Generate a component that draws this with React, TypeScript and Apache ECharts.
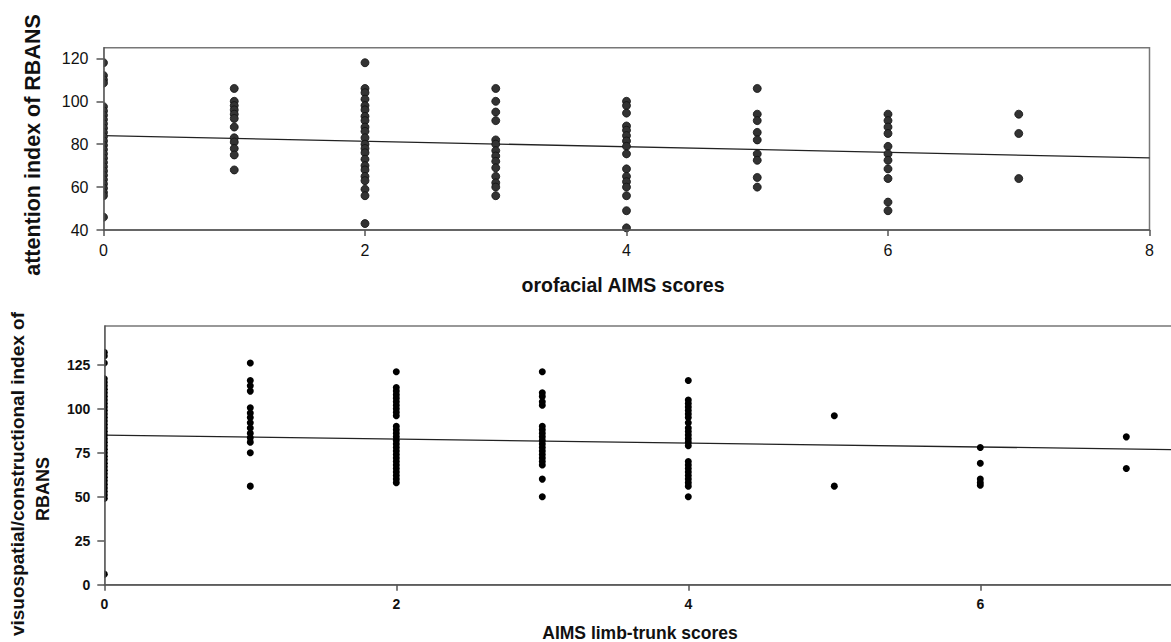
import React, { useEffect, useRef } from "react";
import * as echarts from "echarts";

// ---- Top panel: attention index of RBANS vs orofacial AIMS scores ----
const orofacialTicks = [0, 2, 4, 6, 8];
const attentionTicks = [40, 60, 80, 100, 120];
const attentionAt0 = [118, 112, 110, 108.5, 97.5, 95.5, 93.5, 91.5, 89.5, 87.5, 85.5, 83.5, 81.5, 79.5, 77.5, 75.5, 73.5, 71.5, 69.5, 67.5, 65.5, 63.5, 61.5, 59.5, 57.5, 56, 46];
const attentionAt1 = [106, 100, 98, 96, 94, 92, 88, 83, 81, 78, 75, 68];
const attentionAt2 = [118, 106, 104, 101, 98, 96, 93, 91, 88, 86, 83, 80, 78, 76, 73, 70, 68, 65, 63, 59, 56, 43];
const attentionAt3 = [106, 100, 95, 91, 82, 80, 77, 74.5, 72, 69, 65, 62, 60, 56];
const attentionAt4 = [100, 98, 94.5, 88.5, 86.5, 84, 81.5, 79, 75.5, 68.5, 65, 62.5, 60, 56, 49, 41];
const attentionAt5 = [106, 94, 91, 85.5, 82, 75.5, 72.5, 64.5, 60];
const attentionAt6 = [94, 91, 88, 85, 79, 75.5, 72.5, 68.5, 64, 53, 49];
const attentionAt7 = [94, 85, 64];
const attentionFit = [[0, 84], [8, 73.6]];

// ---- Bottom panel: visuospatial/constructional index vs AIMS limb-trunk scores ----
const limbTicks = [0, 2, 4, 6];
const visuoTicks = [0, 25, 50, 75, 100, 125];
const visuoAt0 = [132, 130, 126, 117, 115, 113, 111, 109, 107, 105, 103, 101, 99, 97, 95, 93, 91, 89, 87, 85, 83, 81, 79, 77, 75, 73, 71, 69, 67, 65, 63, 61, 59, 57, 55, 53, 51, 49, 6];
const visuoAt1 = [126, 116, 113, 110, 100.5, 97.5, 95, 92, 89, 86, 83.5, 81, 75, 56];
const visuoAt2 = [121, 112, 110, 108, 106, 104, 102, 100, 98, 96, 90, 88, 86, 84, 82, 80, 78, 76, 74, 72, 70, 68, 66, 64, 62, 60, 58];
const visuoAt3 = [121, 109, 107, 104, 102, 90, 88, 86, 84, 82, 80, 78, 76, 74, 72, 70, 68, 60, 50];
const visuoAt4 = [116, 105, 103, 101, 99, 97, 95, 92, 89, 87, 85, 83, 81, 79, 70, 68, 66, 64, 62, 60, 58, 56, 50];
const visuoAt5 = [96, 56];
const visuoAt6 = [78, 69, 60, 58, 56.5];
const visuoAt7 = [84, 66];
const visuoFit = [[0, 85], [8, 76]];

const toPoints = (cols: number[][]) => {
  const out: number[][] = [];
  cols.forEach((vals, x) => vals.forEach((v) => out.push([x, v])));
  return out;
};

const FONT = "'Liberation Sans', Arial, sans-serif";
const AXIS_COLOR = "#555";

export default function App() {
  const ref = useRef<HTMLDivElement>(null);

  useEffect(() => {
    if (!ref.current) return;
    const chart = echarts.init(ref.current, undefined, { renderer: "svg" });

    const topPts = toPoints([attentionAt0, attentionAt1, attentionAt2, attentionAt3, attentionAt4, attentionAt5, attentionAt6, attentionAt7]);
    const botPts = toPoints([visuoAt0, visuoAt1, visuoAt2, visuoAt3, visuoAt4, visuoAt5, visuoAt6, visuoAt7]);

    const axisLine = { show: true, onZero: false, lineStyle: { color: AXIS_COLOR, width: 1.5 } };

    chart.setOption({
      animation: false,
      backgroundColor: "#fff",
      grid: [
        { left: 103.5, top: 47.7, width: 1046, height: 182.3, outerBoundsMode: "none", containLabel: false, show: true, borderColor: "#777", borderWidth: 1.5, backgroundColor: "transparent" },
        { left: 104.3, top: 326, width: 1168, height: 258.7, outerBoundsMode: "none", containLabel: false, show: true, borderColor: "#777", borderWidth: 1.5, backgroundColor: "transparent" },
      ],
      xAxis: [
        {
          gridIndex: 0, type: "value", min: 0, max: 8, interval: 2, z: 3,
          splitLine: { show: false }, axisLine,
          axisTick: { show: true, length: 6, lineStyle: { color: AXIS_COLOR, width: 1.5 }, customValues: orofacialTicks },
          axisLabel: { fontSize: 16, color: "#111", margin: 12, fontFamily: FONT, customValues: orofacialTicks, hideOverlap: false },
        },
        {
          gridIndex: 1, type: "value", min: 0, max: 8, interval: 2, z: 3,
          splitLine: { show: false }, axisLine,
          axisTick: { show: true, length: 6, lineStyle: { color: AXIS_COLOR, width: 1.5 }, customValues: limbTicks },
          axisLabel: { fontSize: 14, fontWeight: "bold", color: "#111", margin: 12, fontFamily: FONT, customValues: limbTicks },
        },
      ],
      yAxis: [
        {
          gridIndex: 0, type: "value", min: 40, max: 125, interval: 20, z: 3,
          splitLine: { show: false }, axisLine,
          axisTick: { show: true, length: 7, lineStyle: { color: AXIS_COLOR, width: 1.5 }, customValues: attentionTicks },
          axisLabel: { fontSize: 16, color: "#111", margin: 15, fontFamily: FONT, customValues: attentionTicks },
        },
        {
          gridIndex: 1, type: "value", min: 0, max: 147, interval: 25, z: 3,
          splitLine: { show: false }, axisLine,
          axisTick: { show: true, length: 7, lineStyle: { color: AXIS_COLOR, width: 1.5 }, customValues: visuoTicks },
          axisLabel: { fontSize: 14, fontWeight: "bold", color: "#111", margin: 14, fontFamily: FONT, customValues: visuoTicks },
        },
      ],
      series: [
        {
          type: "scatter", xAxisIndex: 0, yAxisIndex: 0, z: 1, data: topPts,
          symbol: "circle", symbolSize: 8,
          itemStyle: { color: "#333", borderColor: "#111", borderWidth: 0.8, opacity: 1 },
        },
        {
          type: "line", xAxisIndex: 0, yAxisIndex: 0, z: 1, data: attentionFit, symbol: "none",
          lineStyle: { color: "#222", width: 1.3 },
        },
        {
          type: "scatter", xAxisIndex: 1, yAxisIndex: 1, z: 1, data: botPts,
          symbol: "circle", symbolSize: 7,
          itemStyle: { color: "#000", opacity: 1 },
        },
        {
          type: "line", xAxisIndex: 1, yAxisIndex: 1, z: 1, data: visuoFit, symbol: "none",
          lineStyle: { color: "#222", width: 1.3 },
        },
      ],
      graphic: [
        { type: "rect", z: 2, shape: { x: 88, y: 40, width: 15.5, height: 196 }, style: { fill: "#fff" } },
        { type: "rect", z: 2, shape: { x: 88, y: 318, width: 16.3, height: 272 }, style: { fill: "#fff" } },
        {
          type: "text", z: 5, x: 33, y: 145, rotation: Math.PI / 2,
          style: { text: "attention index of RBANS", fontSize: 21.5, fontWeight: "bold", fontFamily: FONT, fill: "#111", align: "center", verticalAlign: "middle" },
        },
        {
          type: "text", z: 5, x: 623, y: 285,
          style: { text: "orofacial AIMS scores", fontSize: 19.5, fontWeight: "bold", fontFamily: FONT, fill: "#111", align: "center", verticalAlign: "middle" },
        },
        {
          type: "text", z: 5, x: 17.5, y: 474, rotation: Math.PI / 2,
          style: { text: "visuospatial/constructional index of", fontSize: 19, fontWeight: "bold", fontFamily: FONT, fill: "#111", align: "center", verticalAlign: "middle" },
        },
        {
          type: "text", z: 5, x: 42.5, y: 489, rotation: Math.PI / 2,
          style: { text: "RBANS", fontSize: 18, fontWeight: "bold", fontFamily: FONT, fill: "#111", align: "center", verticalAlign: "middle" },
        },
        {
          type: "text", z: 5, x: 640, y: 633,
          style: { text: "AIMS limb-trunk scores", fontSize: 17.5, fontWeight: "bold", fontFamily: FONT, fill: "#111", align: "center", verticalAlign: "middle" },
        },
      ],
    });

    return () => chart.dispose();
  }, []);

  return (
    <div
      ref={ref}
      style={{ position: "absolute", left: 0, top: 0, width: 1171, height: 642, background: "#fff" }}
    />
  );
}
